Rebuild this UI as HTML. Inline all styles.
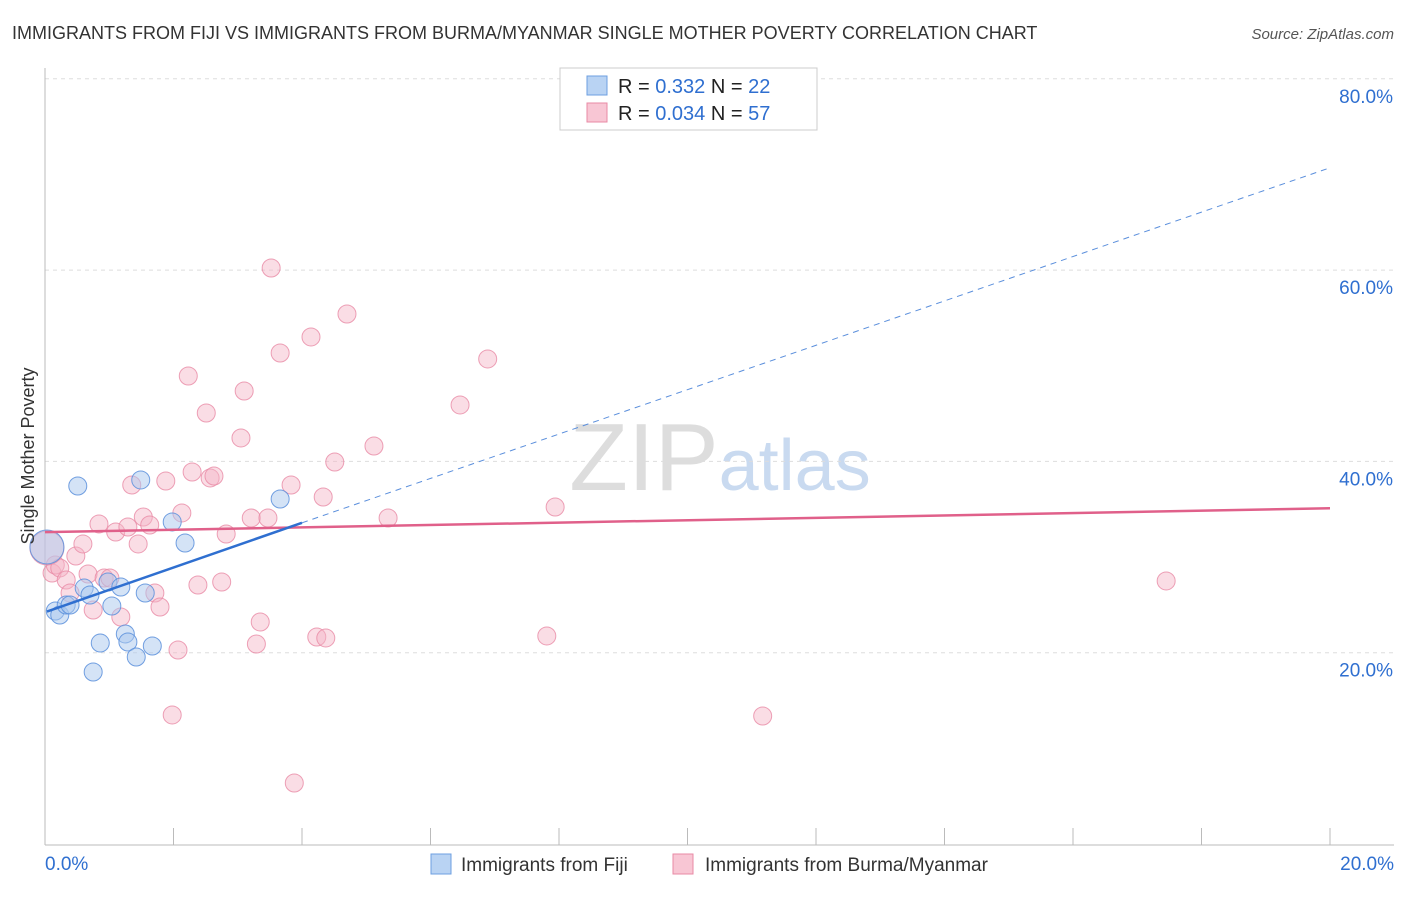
<!DOCTYPE html>
<html><head><meta charset="utf-8"><style>
body{margin:0;background:#fff;font-family:"Liberation Sans",sans-serif;}
svg text{font-family:"Liberation Sans",sans-serif;}
</style></head><body>
<svg id="chart" width="1406" height="892" xmlns="http://www.w3.org/2000/svg">
<text x="12" y="39" font-size="18" fill="#333">IMMIGRANTS FROM FIJI VS IMMIGRANTS FROM BURMA/MYANMAR SINGLE MOTHER POVERTY CORRELATION CHART</text>
<text x="1394" y="39" font-size="15" fill="#555" text-anchor="end" font-style="italic">Source: ZipAtlas.com</text>
<text x="720" y="490" font-size="96" text-anchor="middle" fill="#ddd" font-family="Liberation Serif">ZIP<tspan fill="#c9daf0" font-family="Liberation Sans" font-size="72">atlas</tspan></text>
<g id="grid"></g>
<g id="axes"></g>
<g id="marks"></g>
<text transform="translate(34,456) rotate(-90)" font-size="18" fill="#333" text-anchor="middle">Single Mother Poverty</text>
<g>
<rect x="560" y="68" width="257" height="62" fill="#fff" stroke="#ccc"/>
<rect x="587" y="76" width="20" height="19" fill="#b9d3f3" stroke="#6d9fe0"/>
<rect x="587" y="103" width="20" height="19" fill="#f8c6d4" stroke="#e88aa5"/>
<text x="618" y="93" font-size="20" fill="#222">R = <tspan fill="#2f6fd0"> 0.332</tspan>   N = <tspan fill="#2f6fd0">22</tspan></text>
<text x="618" y="120" font-size="20" fill="#222">R = <tspan fill="#2f6fd0">0.034</tspan>   N = <tspan fill="#2f6fd0">57</tspan></text>
</g>
<g>
<rect x="431" y="854" width="20" height="20" fill="#b9d3f3" stroke="#6d9fe0"/>
<text x="461" y="871" font-size="19" fill="#333">Immigrants from Fiji</text>
<rect x="673" y="854" width="20" height="20" fill="#f8c6d4" stroke="#e88aa5"/>
<text x="705" y="871" font-size="19" fill="#333">Immigrants from Burma/Myanmar</text>
</g>
</svg>
<script>
const fijiX=[0.16,0.23,0.33,0.39,0.51,0.61,0.70,0.75,0.86,0.98,1.04,1.18,1.25,1.29,1.42,1.49,1.56,1.67,1.98,2.18,3.66,0.03];
const fijiY=[24.36,23.94,24.99,24.99,37.43,26.76,26.03,17.98,21.01,27.39,24.88,26.87,21.96,21.12,19.55,38.06,26.24,20.70,33.67,31.47,36.07,31.05];
const burmaX=[0.11,0.16,0.23,0.33,0.39,0.48,0.59,0.67,0.75,0.84,0.92,1.01,1.10,1.18,1.29,1.35,1.45,1.53,1.63,1.71,1.79,1.88,1.98,2.07,2.13,2.23,2.29,2.38,2.51,2.57,2.63,2.75,2.82,3.05,3.10,3.21,3.29,3.35,3.47,3.52,3.66,3.83,4.14,4.23,4.33,4.37,4.51,4.70,5.12,5.34,6.46,6.89,7.81,7.94,11.17,17.45,3.88,0.03];
const burmaY=[28.33,29.17,28.86,27.60,26.24,30.11,31.37,28.23,24.46,33.46,27.81,27.81,32.62,23.73,33.14,37.53,31.37,34.19,33.35,26.24,24.78,37.95,13.49,20.28,34.61,48.93,38.89,27.08,45.06,38.27,38.47,27.39,32.41,42.45,47.36,34.08,20.91,23.21,34.08,60.22,51.33,37.53,53.01,21.64,36.28,21.54,39.94,55.41,41.61,34.08,45.90,50.71,21.75,35.23,13.38,27.50,6.38,30.95];
const yTicks=[20,40,60,80];
const yTickLabels=["20.0%","40.0%","60.0%","80.0%"];
const xTickLabels=["0.0%","20.0%"];
const fijiFit=[24.3,2.32];   // intercept, slope
const burmaFit=[32.6,0.125];

const X=v=>45+v/20*1285, Y=v=>844-v/20*191.3;
const ns="http://www.w3.org/2000/svg";
function mk(tag,attrs,parent){const e=document.createElementNS(ns,tag);for(const k in attrs)e.setAttribute(k,attrs[k]);document.getElementById(parent).appendChild(e);return e;}
yTicks.forEach((t,i)=>{
  const l=mk('line',{x1:45,x2:1394,y1:Y(t),y2:Y(t),stroke:'#ddd','stroke-dasharray':'4,4'},'grid');
  
  
  const tx=mk('text',{x:1393,y:Y(t)+24,'font-size':19,fill:'#2f6fd0','text-anchor':'end'},'axes');tx.textContent=yTickLabels[i];
  
  
});
mk('line',{x1:45,x2:45,y1:68,y2:845,stroke:'#bbb'},'axes');
mk('line',{x1:45,x2:1394,y1:845,y2:845,stroke:'#bbb'},'axes');
for(let i=1;i<=10;i++){const xv=X(i*2);mk('line',{x1:xv,x2:xv,y1:828,y2:845,stroke:'#bbb'},'axes');}
[[0,'start',45],[20,'end',1394]].forEach((d,i)=>{const t=mk('text',{x:d[2],y:870,'font-size':19,fill:'#2f6fd0','text-anchor':d[1]},'axes');t.textContent=xTickLabels[i];
  
  });
burmaX.forEach((x,i)=>{const big=i===burmaX.length-1;
  const c=mk('circle',{cx:X(x),cy:Y(burmaY[i]),r:big?17:9,fill:'#f4b3c6','fill-opacity':0.45,stroke:'#e88aa5','stroke-opacity':0.8},'marks');
  
  });
fijiX.forEach((x,i)=>{const big=i===fijiX.length-1;
  const c=mk('circle',{cx:X(x),cy:Y(fijiY[i]),r:big?17:9,fill:'#a9c8ee','fill-opacity':0.5,stroke:'#5b8fdc','stroke-opacity':0.85},'marks');
  
  });
const pl=mk('line',{x1:X(0),y1:Y(burmaFit[0]),x2:X(20),y2:Y(burmaFit[0]+20*burmaFit[1]),stroke:'#e0608a','stroke-width':2.5},'marks');


const bl=mk('line',{x1:X(0.03),y1:Y(fijiFit[0]),x2:X(4),y2:Y(fijiFit[0]+4*fijiFit[1]),stroke:'#2f6fd0','stroke-width':2.5},'marks');


const bd=mk('line',{x1:X(4),y1:Y(fijiFit[0]+4*fijiFit[1]),x2:X(20),y2:Y(fijiFit[0]+20*fijiFit[1]),stroke:'#5b8fdc','stroke-width':1,'stroke-dasharray':'6,5'},'marks');


</script>
</body></html>
